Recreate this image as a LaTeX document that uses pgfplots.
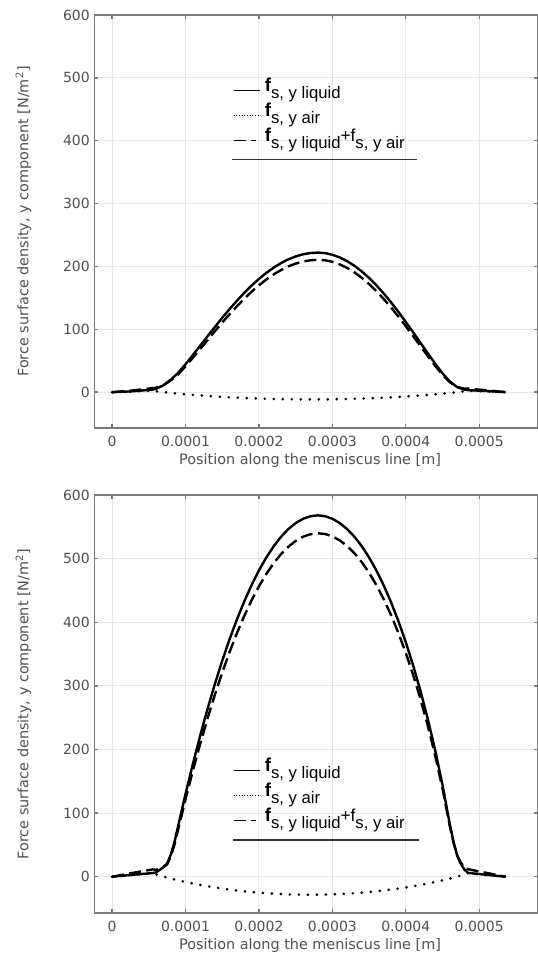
\documentclass[border=0pt]{standalone}
\usepackage{fontspec}
\setmainfont{DejaVu Sans}
\newfontfamily\arialfont{Liberation Sans}
\usepackage{pgfplots}
\pgfplotsset{compat=1.18}
\definecolor{axgray}{HTML}{7A7A7A}
\definecolor{txtgray}{HTML}{505050}
\definecolor{gridgray}{HTML}{E6E6E6}
\newcommand\fsub[1]{\raisebox{-5pt}{\fontsize{12.5}{12.5}\selectfont #1}}
\newcommand\fbold{{\fontsize{14}{14}\selectfont\bfseries f}}
\pgfplotsset{
 mystyle/.style={
  scale only axis, width=332.6pt,
  xmin=-0.24, xmax=5.8, ymin=-57, ymax=600,
  xtick={0,1,2,3,4,5}, xticklabels={0,0.0001,0.0002,0.0003,0.0004,0.0005},
  ytick={0,100,...,600},
  grid=major, major grid style={gridgray, line width=0.75pt},
  axis line style={axgray, line width=1.1pt},
  tick style={axgray, line width=1pt}, tick align=inside, major tick length=3pt,
  ticklabel style={font=\fontsize{10.5}{12}\selectfont, text=txtgray},
  xticklabel style={yshift=-2.5pt},
  /pgf/number format/assume math mode=true,
  xlabel={Position along the meniscus line [m]},
  ylabel={Force surface density, y component [N/m\textsuperscript{2}]},
  label style={font=\fontsize{10.8}{12}\selectfont, text=txtgray},
  xlabel style={at={(axis description cs:0.486,-0.078)}, anchor=center},
  ylabel style={at={(axis description cs:-0.16,0.5)}, anchor=center},
  legend cell align=left,
  legend image code/.code={\draw[##1] (0pt,0pt) -- (20pt,0pt);},
  legend style={draw=none, fill=none, font=\arialfont, row sep=0pt, column sep=3pt,
    inner sep=0pt, anchor=north west,
    nodes={inner sep=0pt, text height=10pt, text depth=8.75pt}},
 },
 liq/.style={black, line width=1.8pt, line join=round},
 air/.style={black, line width=2.2pt, line cap=round, dash pattern=on 0pt off 6.75pt},
 sum/.style={black, line width=1.8pt, dash pattern=on 9pt off 4pt},
}
\begin{document}
\begin{tikzpicture}
\useasboundingbox (0,0) rectangle (402.75pt,715.5pt);
% ---------------- top axis ----------------
\begin{axis}[mystyle, height=309.75pt, at={(70.875pt,394.5pt)}, anchor=south west,
  legend style={at={(rel axis cs:0.312,0.847)}}]
\addplot[liq, forget plot] coordinates {
(0,0) (0.25,1.2) (0.55,4.0) (0.6,5.5) (0.7,11.0) (0.8,20.0) (0.9,30.7) (1.0,44.5)
(1.1,59.1) (1.2,74.0) (1.3,88.9) (1.4,103.8) (1.5,118.3) (1.6,132.2) (1.7,145.5)
(1.8,158.0) (1.9,169.6) (2.0,180.2) (2.1,189.7) (2.2,198.1) (2.3,205.3) (2.4,211.3)
(2.5,215.9) (2.6,219.3) (2.7,221.3) (2.8,222.0) (2.9,221.2) (3.0,218.6) (3.1,214.4)
(3.2,208.5) (3.3,201.1) (3.4,192.1) (3.5,181.7) (3.6,169.9) (3.7,156.9) (3.8,142.7)
(3.9,127.6) (4.0,111.7) (4.1,95.3) (4.2,78.5) (4.3,61.7) (4.4,45.4) (4.5,29.9)
(4.6,17.0) (4.7,8.0) (4.8,4.0) (4.85,3.2) (5.1,1.8) (5.36,0)};
\addplot[air, forget plot] coordinates {
(0,0) (0.25,1.1) (0.55,2.36) (0.6,1.49) (0.7,0.08) (0.8,-1.18) (0.9,-2.32) (1.0,-3.37)
(1.1,-4.34) (1.2,-5.24) (1.3,-6.07) (1.4,-6.84) (1.5,-7.54) (1.6,-8.18) (1.7,-8.76)
(1.8,-9.29) (1.9,-9.75) (2.0,-10.16) (2.1,-10.52) (2.2,-10.81) (2.3,-11.06) (2.4,-11.25)
(2.5,-11.38) (2.6,-11.46) (2.7,-11.49) (2.8,-11.46) (2.9,-11.38) (3.0,-11.25) (3.1,-11.06)
(3.2,-10.81) (3.3,-10.52) (3.4,-10.16) (3.5,-9.75) (3.6,-9.29) (3.7,-8.76) (3.8,-8.18)
(3.9,-7.54) (4.0,-6.84) (4.1,-6.07) (4.2,-5.24) (4.3,-4.34) (4.4,-3.37) (4.5,-2.32)
(4.6,-1.18) (4.7,0.08) (4.8,1.49) (4.85,2.36) (5.1,1.2) (5.36,0)};
\addplot[sum, forget plot] coordinates {
(0,0) (0.25,2.3) (0.55,6.4) (0.6,7.0) (0.7,11.1) (0.8,18.8) (0.9,28.4) (1.0,41.1)
(1.1,54.8) (1.2,68.8) (1.3,82.8) (1.4,97.0) (1.5,110.8) (1.6,124.0) (1.7,136.7)
(1.8,148.7) (1.9,159.9) (2.0,170.0) (2.1,179.2) (2.2,187.3) (2.3,194.2) (2.4,200.1)
(2.5,204.5) (2.6,207.8) (2.7,209.8) (2.8,210.5) (2.9,209.8) (3.0,207.4) (3.1,203.3)
(3.2,197.7) (3.3,190.6) (3.4,181.9) (3.5,172.0) (3.6,160.6) (3.7,148.1) (3.8,134.5)
(3.9,120.1) (4.0,104.9) (4.1,89.2) (4.2,73.3) (4.3,57.4) (4.4,42.0) (4.5,27.6)
(4.6,15.8) (4.7,8.1) (4.8,5.5) (4.85,5.6) (5.1,3.0) (5.36,0)};
\addlegendimage{black, line width=0.8pt}
\addlegendentry{\fbold\fsub{s, y liquid}}
\addlegendimage{black, line width=0.8pt, dash pattern=on 0.8pt off 1.2pt}
\addlegendentry{\fbold\fsub{s, y air}}
\addlegendimage{black, line width=0.8pt, dash pattern=on 9pt off 4pt on 4pt off 20pt}
\addlegendentry{\fbold\fsub{s, y liquid}{\fontsize{13}{13}\selectfont +f}\fsub{s, y air}}
\draw[black!80, line width=0.8pt] (rel axis cs:0.310,0.651) -- (rel axis cs:0.727,0.651);
\end{axis}
% ---------------- bottom axis ----------------
\begin{axis}[mystyle, height=313.5pt, at={(70.875pt,30.75pt)}, anchor=south west,
  legend style={at={(rel axis cs:0.312,0.371)}}]
\addplot[liq, forget plot] coordinates {
(0,0) (0.25,2.8) (0.55,5.7) (0.6,7.0) (0.7,15.0) (0.75,21.0) (0.8,35.0) (0.85,55.0)
(0.9,80.1) (1.0,130.1)
(1.1,177.4) (1.2,222.0) (1.3,263.9) (1.4,303.1) (1.5,339.6) (1.6,373.4) (1.7,404.5)
(1.8,432.8) (1.9,458.5) (2.0,481.5) (2.1,501.8) (2.2,519.3) (2.3,534.2) (2.4,546.4)
(2.5,555.8) (2.6,562.6) (2.7,566.6) (2.8,568.0) (2.9,566.7) (3.0,562.6) (3.1,555.9)
(3.2,546.5) (3.3,534.4) (3.4,519.5) (3.5,501.8) (3.6,481.2) (3.7,457.7) (3.8,431.1)
(3.9,401.5) (4.0,368.5) (4.1,332.1) (4.2,292.0) (4.3,247.7) (4.4,198.8) (4.5,144.3)
(4.6,81.9) (4.65,55.0) (4.7,33.0) (4.75,20.0) (4.8,11.0) (4.85,6.0) (5.1,3.0) (5.36,0)};
\addplot[air, forget plot] coordinates {
(0,0) (0.25,2.6) (0.55,5.8) (0.6,3.67) (0.7,0.19) (0.8,-2.90) (0.9,-5.71) (1.0,-8.30)
(1.1,-10.69) (1.2,-12.91) (1.3,-14.96) (1.4,-16.84) (1.5,-18.57) (1.6,-20.15) (1.7,-21.58)
(1.8,-22.87) (1.9,-24.02) (2.0,-25.03) (2.1,-25.90) (2.2,-26.64) (2.3,-27.24) (2.4,-27.70)
(2.5,-28.03) (2.6,-28.23) (2.7,-28.3) (2.8,-28.23) (2.9,-28.03) (3.0,-27.70) (3.1,-27.24)
(3.2,-26.64) (3.3,-25.90) (3.4,-25.03) (3.5,-24.02) (3.6,-22.87) (3.7,-21.58) (3.8,-20.15)
(3.9,-18.57) (4.0,-16.84) (4.1,-14.96) (4.2,-12.91) (4.3,-10.69) (4.4,-8.30) (4.5,-5.71)
(4.6,-2.90) (4.7,0.19) (4.8,3.67) (4.85,5.8) (5.1,3.0) (5.36,0)};
\addplot[sum, forget plot] coordinates {
(0,0) (0.25,5.4) (0.55,11.5) (0.6,10.7) (0.7,15.2) (0.75,19.6) (0.8,32.1) (0.85,50.7)
(0.9,74.4) (1.0,121.8)
(1.1,166.7) (1.2,209.1) (1.3,248.9) (1.4,286.3) (1.5,321.0) (1.6,353.3) (1.7,382.9)
(1.8,409.9) (1.9,434.5) (2.0,456.5) (2.1,475.9) (2.2,492.7) (2.3,507.0) (2.4,518.7)
(2.5,527.8) (2.6,534.4) (2.7,538.3) (2.8,539.8) (2.9,538.7) (3.0,534.9) (3.1,528.7)
(3.2,519.9) (3.3,508.5) (3.4,494.5) (3.5,477.8) (3.6,458.3) (3.7,436.1) (3.8,411.0)
(3.9,382.9) (4.0,351.7) (4.1,317.1) (4.2,279.1) (4.3,237.0) (4.4,190.5) (4.5,138.6)
(4.6,79.0) (4.65,53.6) (4.7,33.2) (4.75,21.9) (4.8,14.7) (4.85,11.8) (5.1,6.0) (5.36,0)};
\addlegendimage{black, line width=0.8pt}
\addlegendentry{\fbold\fsub{s, y liquid}}
\addlegendimage{black, line width=0.8pt, dash pattern=on 0.8pt off 1.2pt}
\addlegendentry{\fbold\fsub{s, y air}}
\addlegendimage{black, line width=0.8pt, dash pattern=on 9pt off 4pt on 4pt off 20pt}
\addlegendentry{\fbold\fsub{s, y liquid}{\fontsize{13}{13}\selectfont +f}\fsub{s, y air}}
\draw[black!80, line width=0.8pt] (rel axis cs:0.312,0.1746) -- (rel axis cs:0.732,0.1746);
\end{axis}
\end{tikzpicture}
\end{document}
